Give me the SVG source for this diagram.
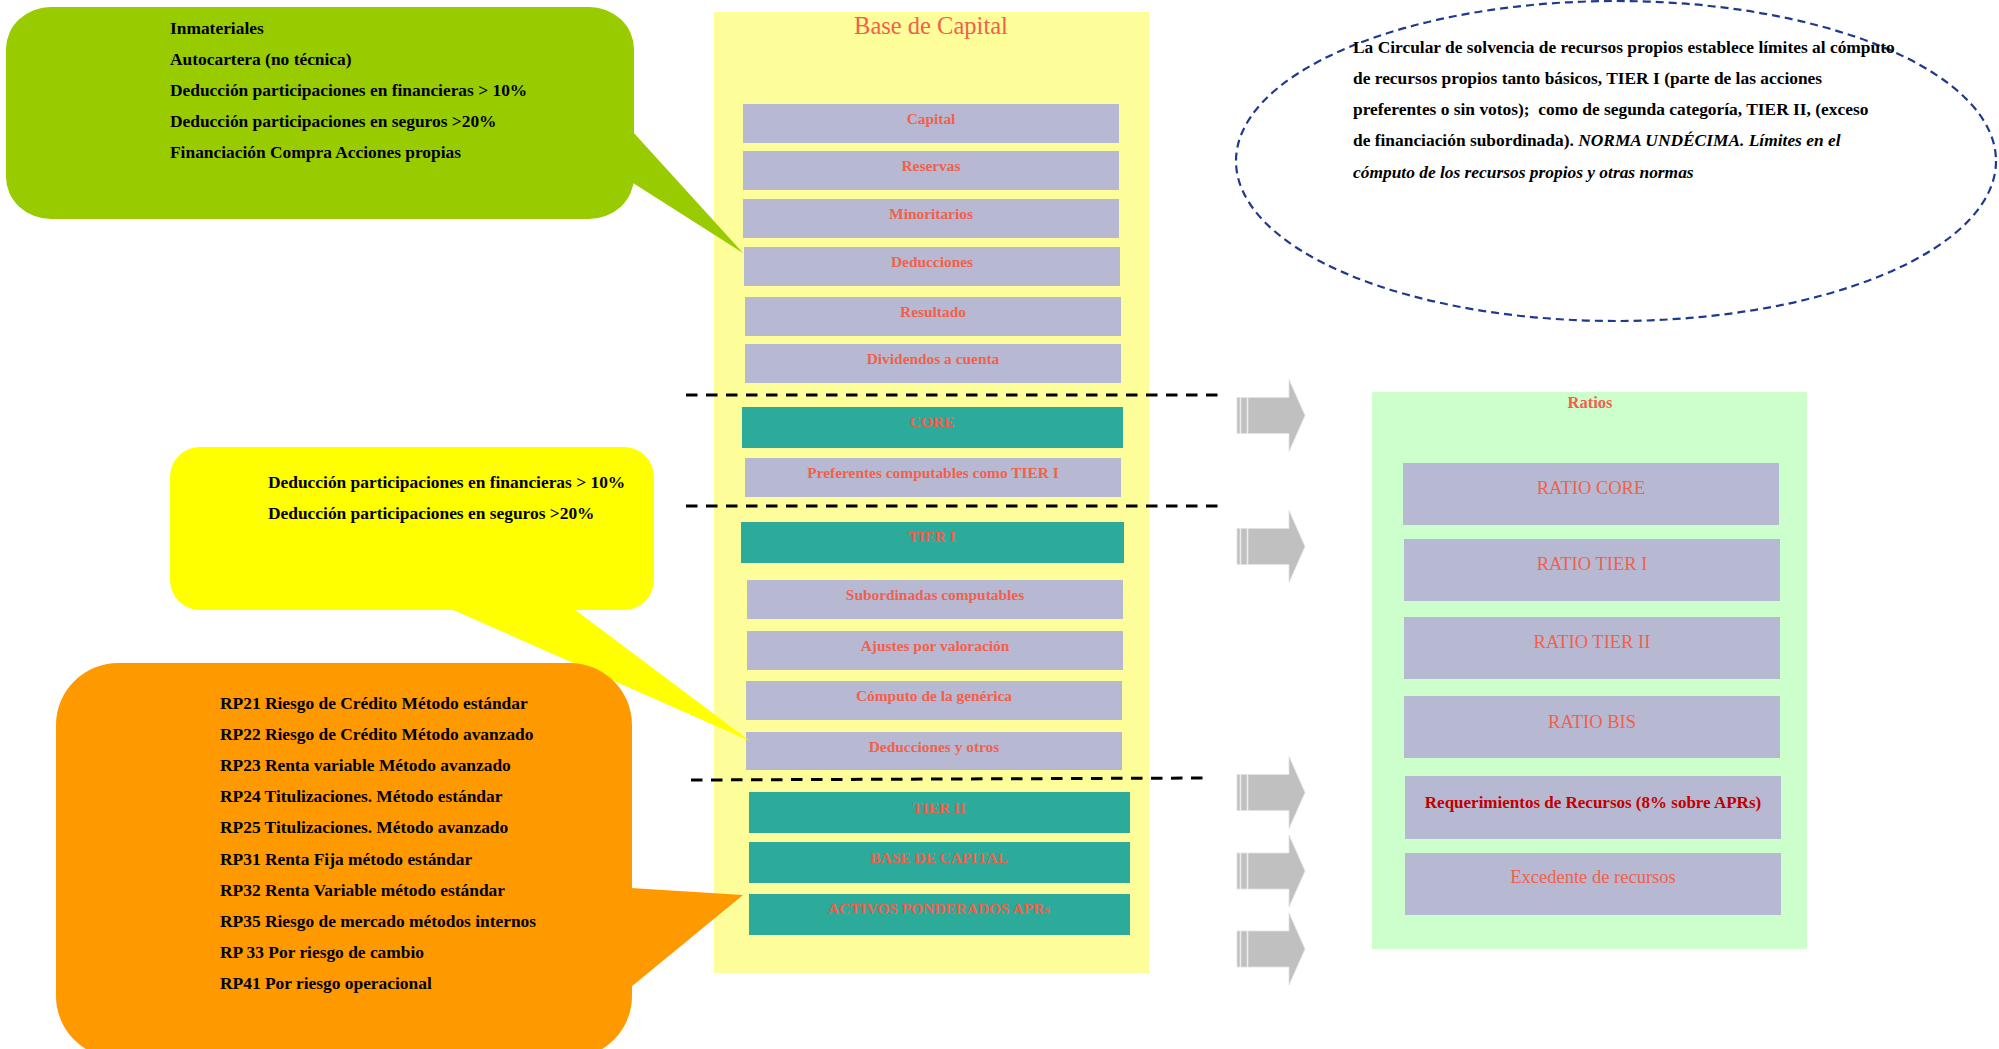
<svg xmlns="http://www.w3.org/2000/svg" width="1999" height="1049" viewBox="0 0 1999 1049">
<style>
.t{font-family:"Liberation Serif","Times New Roman",serif;}
.cb{font-family:"Liberation Serif","Times New Roman",serif;font-weight:bold;font-size:17.4px;fill:#000;}
.lav{fill:#B7B9D3;}
.teal{fill:#2CAA9A;}
.lbl{font-family:"Liberation Serif","Times New Roman",serif;font-weight:bold;font-size:15.4px;fill:#F2604A;text-anchor:middle;}
.rl{font-family:"Liberation Serif","Times New Roman",serif;font-size:18.5px;fill:#F2604A;text-anchor:middle;}
.dash{stroke:#000;stroke-width:3;stroke-dasharray:11.5 8.5;fill:none;}
.arr{fill:#C0C0C0;stroke:#E2E2E2;stroke-width:0.8;}
</style>
<defs>
<g id="barrow">
<rect x="1237" y="-18" width="3" height="36" class="arr"/>
<rect x="1241" y="-18" width="6" height="36" class="arr"/>
<path d="M1248,-18 H1289 V-36 L1305,0 L1289,36 V18 H1248 Z" class="arr"/>
</g>
</defs>
<rect width="1999" height="1049" fill="#fff"/>

<g id="base-capital">
<rect x="714" y="12" width="435" height="961" fill="#FDFD99"/>
<text class="t" x="931" y="34" font-size="24.5" fill="#F2604A" text-anchor="middle">Base de Capital</text>
</g>

<g id="capital"><rect class="lav" x="743" y="104" width="376" height="39"/><text class="lbl" x="931" y="124">Capital</text></g>
<g id="reservas"><rect class="lav" x="743" y="151" width="376" height="39"/><text class="lbl" x="931" y="171">Reservas</text></g>
<g id="minoritarios"><rect class="lav" x="743" y="199" width="376" height="39"/><text class="lbl" x="931" y="219">Minoritarios</text></g>
<g id="deducciones"><rect class="lav" x="744" y="247" width="376" height="39"/><text class="lbl" x="932" y="267">Deducciones</text></g>
<g id="resultado"><rect class="lav" x="745" y="297" width="376" height="39"/><text class="lbl" x="933" y="317">Resultado</text></g>
<g id="dividendos"><rect class="lav" x="745" y="344" width="376" height="39"/><text class="lbl" x="933" y="364">Dividendos a cuenta</text></g>
<g id="core"><rect class="teal" x="742" y="407" width="381" height="41"/><text class="lbl" x="932" y="427">CORE</text></g>
<g id="preferentes"><rect class="lav" x="745" y="458" width="376" height="39"/><text class="lbl" x="933" y="478">Preferentes computables como TIER I</text></g>
<g id="tier1"><rect class="teal" x="741" y="522" width="383" height="41"/><text class="lbl" x="932" y="542">TIER I</text></g>
<g id="subordinadas"><rect class="lav" x="747" y="580" width="376" height="39"/><text class="lbl" x="935" y="600">Subordinadas computables</text></g>
<g id="ajustes"><rect class="lav" x="747" y="631" width="376" height="39"/><text class="lbl" x="935" y="651">Ajustes por valoración</text></g>
<g id="computo"><rect class="lav" x="746" y="681" width="376" height="39"/><text class="lbl" x="934" y="701">Cómputo de la genérica</text></g>
<g id="deducciones-otros"><rect class="lav" x="746" y="732" width="376" height="38"/><text class="lbl" x="934" y="752">Deducciones y otros</text></g>
<g id="tier2"><rect class="teal" x="749" y="792" width="381" height="41"/><text class="lbl" x="939" y="813">TIER II</text></g>
<g id="base-de-capital"><rect class="teal" x="749" y="842" width="381" height="41"/><text class="lbl" x="939" y="863">BASE DE CAPITAL</text></g>
<g id="activos"><rect class="teal" x="749" y="894" width="381" height="41"/><text class="lbl" x="939" y="914">ACTIVOS PONDERADOS APRs</text></g>

<g id="callout-green">
<rect x="6" y="7" width="628" height="212" rx="45" ry="42" fill="#99CC00"/>
<polygon points="633,132 743,253 633,183" fill="#99CC00"/>
<text class="cb" x="170" y="34">Inmateriales</text>
<text class="cb" x="170" y="65">Autocartera (no técnica)</text>
<text class="cb" x="170" y="96">Deducción participaciones en financieras &gt; 10%</text>
<text class="cb" x="170" y="127">Deducción participaciones en seguros &gt;20%</text>
<text class="cb" x="170" y="158">Financiación Compra Acciones propias</text>
</g>

<g id="callout-yellow">
<rect x="170" y="447" width="484" height="163" rx="30" ry="30" fill="#FFFF00"/>
<polygon points="451,609 750,741 574,609" fill="#FFFF00"/>
<text class="cb" x="268" y="488">Deducción participaciones en financieras &gt; 10%</text>
<text class="cb" x="268" y="519">Deducción participaciones en seguros &gt;20%</text>
</g>

<g id="callout-orange">
<rect x="56" y="663" width="576" height="395" rx="62" ry="62" fill="#FF9900"/>
<polygon points="631,888 743,895 631,987" fill="#FF9900"/>
<text class="cb" x="220" y="709">RP21 Riesgo de Crédito Método estándar</text>
<text class="cb" x="220" y="740">RP22 Riesgo de Crédito Método avanzado</text>
<text class="cb" x="220" y="771">RP23 Renta variable Método avanzado</text>
<text class="cb" x="220" y="802">RP24 Titulizaciones. Método estándar</text>
<text class="cb" x="220" y="833">RP25 Titulizaciones. Método avanzado</text>
<text class="cb" x="220" y="865">RP31 Renta Fija método estándar</text>
<text class="cb" x="220" y="896">RP32 Renta Variable método estándar</text>
<text class="cb" x="220" y="927">RP35 Riesgo de mercado métodos internos</text>
<text class="cb" x="220" y="958">RP 33 Por riesgo de cambio</text>
<text class="cb" x="220" y="989">RP41 Por riesgo operacional</text>
</g>

<g id="nota-ellipse">
<ellipse cx="1616" cy="161" rx="380" ry="160" fill="none" stroke="#1F3A8C" stroke-width="2.2" stroke-dasharray="8 5"/>
<text class="cb" x="1353" y="53">La Circular de solvencia de recursos propios establece límites al cómputo</text>
<text class="cb" x="1353" y="84">de recursos propios tanto básicos, TIER I (parte de las acciones</text>
<text class="cb" x="1353" y="115" xml:space="preserve">preferentes o sin votos);  como de segunda categoría, TIER II, (exceso</text>
<text class="cb" x="1353" y="146">de financiación subordinada). <tspan font-style="italic">NORMA UNDÉCIMA. Límites en el</tspan></text>
<text class="cb" x="1353" y="178" font-style="italic">cómputo de los recursos propios y otras normas</text>
</g>

<g id="ratios">
<rect x="1372" y="392" width="435" height="557" fill="#CCFFCC"/>
<text class="t" x="1590" y="408" font-size="16.5" font-weight="bold" fill="#F2604A" text-anchor="middle">Ratios</text>
</g>
<g id="ratio-core"><rect class="lav" x="1403" y="463" width="376" height="62"/><text class="rl" x="1591" y="494">RATIO CORE</text></g>
<g id="ratio-tier1"><rect class="lav" x="1404" y="539" width="376" height="62"/><text class="rl" x="1592" y="570">RATIO TIER I</text></g>
<g id="ratio-tier2"><rect class="lav" x="1404" y="617" width="376" height="62"/><text class="rl" x="1592" y="648">RATIO TIER II</text></g>
<g id="ratio-bis"><rect class="lav" x="1404" y="696" width="376" height="62"/><text class="rl" x="1592" y="728">RATIO BIS</text></g>
<g id="requerimientos"><rect class="lav" x="1405" y="776" width="376" height="63"/><text class="t" x="1593" y="808" font-size="17" font-weight="bold" fill="#C00000" text-anchor="middle">Requerimientos de Recursos (8% sobre APRs)</text></g>
<g id="excedente"><rect class="lav" x="1405" y="853" width="376" height="62"/><text class="rl" x="1593" y="883">Excedente de recursos</text></g>

<g id="connectors">
<line class="dash" x1="686" y1="395" x2="1218" y2="395"/>
<line class="dash" x1="686" y1="506" x2="1218" y2="506"/>
<line class="dash" x1="691" y1="780" x2="1207" y2="778"/>
<use href="#barrow" transform="translate(0,415.5)"/>
<use href="#barrow" transform="translate(0,546.5)"/>
<use href="#barrow" transform="translate(0,792.5)"/>
<use href="#barrow" transform="translate(0,871)"/>
<use href="#barrow" transform="translate(0,949)"/>
</g>
</svg>
